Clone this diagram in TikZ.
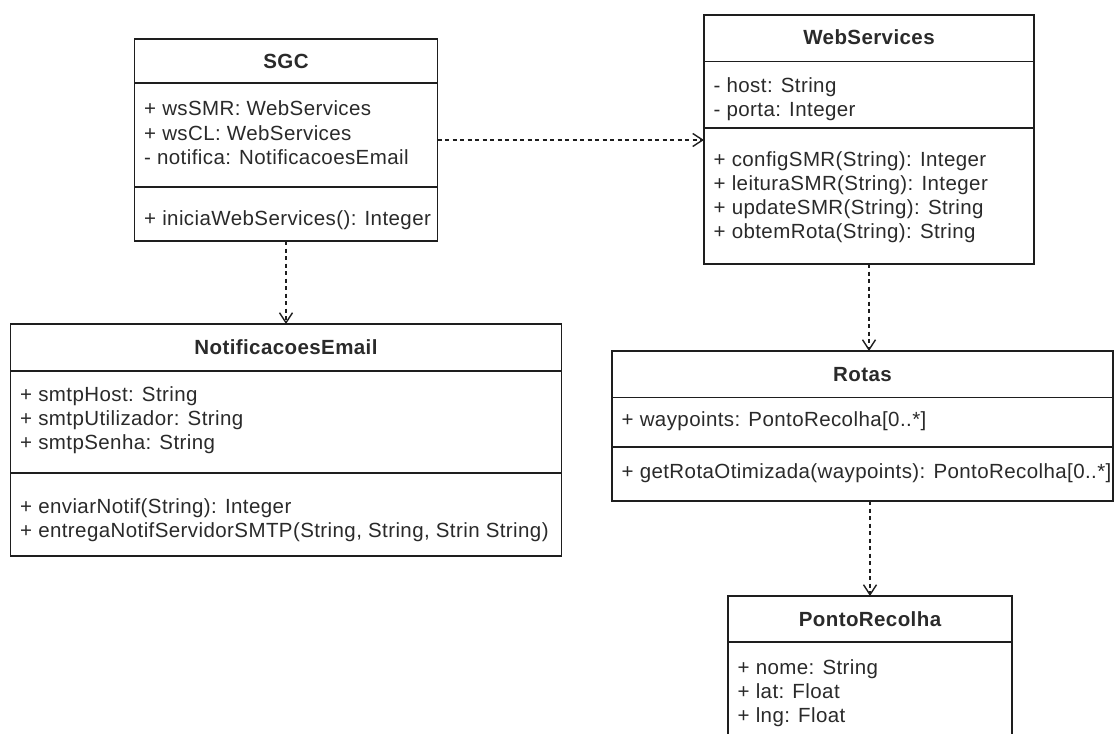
\documentclass[tikz,border=0pt]{standalone}
\usepackage{fontspec}
\setmainfont{Liberation Sans}[LetterSpace=2]
\usetikzlibrary{arrows.meta}
\definecolor{ink}{HTML}{1E1E1E}
\definecolor{txt}{HTML}{2A2A2A}
\tikzset{
  classbox/.style={draw=ink, line width=1.5pt, fill=white, inner sep=0pt, outer sep=0pt},
  sepline/.style={draw=ink, line width=1.5pt},
  title/.style={anchor=base, inner sep=0pt, text=txt, font=\fontsize{20.5}{24}\selectfont\bfseries},
  mem/.style={anchor=base west, inner sep=0pt, text=txt, font=\fontsize{20.5}{24}\selectfont},
  dep/.style={draw=ink, line width=1.5pt, dash pattern=on 4pt off 3.5pt,
    -{Straight Barb[length=10pt,width=13pt,line width=1.4pt]}}
}
\begin{document}
\begin{tikzpicture}[x=1pt,y=-1pt]
\useasboundingbox (0,0) rectangle (1115,733);
\clip (0,0) rectangle (1115,733);

% class boxes
\node[classbox, minimum width=303pt, minimum height=202pt] (sgc)   at (286,140)     {};
\node[classbox, minimum width=330pt, minimum height=249pt] (ws)    at (869,139.5)   {};
\node[classbox, minimum width=551pt, minimum height=232pt] (notif) at (286,440)     {};
\node[classbox, minimum width=501pt, minimum height=150pt] (rotas) at (862.5,426)   {};
\node[classbox, minimum width=284pt, minimum height=174pt] (ponto) at (870,683)     {};

% compartment separators
\draw[sepline] (sgc.west |- 0,83)     -- (sgc.east |- 0,83);
\draw[sepline] (sgc.west |- 0,187)    -- (sgc.east |- 0,187);
\draw[sepline] (ws.west |- 0,61.5)    -- (ws.east |- 0,61.5);
\draw[sepline] (ws.west |- 0,128)     -- (ws.east |- 0,128);
\draw[sepline] (notif.west |- 0,371)  -- (notif.east |- 0,371);
\draw[sepline] (notif.west |- 0,473)  -- (notif.east |- 0,473);
\draw[sepline] (rotas.west |- 0,397.5) -- (rotas.east |- 0,397.5);
\draw[sepline] (rotas.west |- 0,447)  -- (rotas.east |- 0,447);
\draw[sepline] (ponto.west |- 0,642)  -- (ponto.east |- 0,642);

% SGC
\node[title] (sgc-t) at (286,69) {SGC};
\node[mem] (sgc-a1) at (144,116) {+ wsSMR: WebServices};
\node[mem] (sgc-a2) at (144,140) {+ wsCL: WebServices};
\node[mem] (sgc-a3) at (144,164) {- notifica: NotificacoesEmail};
\node[mem] (sgc-m1) at (144,225) {+ iniciaWebServices(): Integer};

% WebServices
\node[title] (ws-t) at (869,45) {WebServices};
\node[mem] (ws-a1) at (713.5,92.5)  {- host: String};
\node[mem] (ws-a2) at (713.5,116.5) {- porta: Integer};
\node[mem] (ws-m1) at (713.5,166.5) {+ configSMR(String): Integer};
\node[mem] (ws-m2) at (713.5,190.5) {+ leituraSMR(String): Integer};
\node[mem] (ws-m3) at (713.5,214.5) {+ updateSMR(String): String};
\node[mem] (ws-m4) at (713.5,238.5) {+ obtemRota(String): String};

% NotificacoesEmail
\node[title] (notif-t) at (286,354) {NotificacoesEmail};
\node[mem] (notif-a1) at (20,401) {+ smtpHost: String};
\node[mem] (notif-a2) at (20,425) {+ smtpUtilizador: String};
\node[mem] (notif-a3) at (20,449) {+ smtpSenha: String};
\node[mem] (notif-m1) at (20,513) {+ enviarNotif(String): Integer};
\node[mem] (notif-m2) at (20,537) {+ entregaNotifServidorSMTP(String, String, Strin String)};

% Rotas
\node[title] (rotas-t) at (862.5,381) {Rotas};
\node[mem] (rotas-a1) at (621.5,426) {+ waypoints: PontoRecolha[0..*]};
\node[mem] (rotas-m1) at (621.5,478) {+ getRotaOtimizada(waypoints): PontoRecolha[0..*]};

% PontoRecolha
\node[title] (ponto-t) at (870,626.5) {PontoRecolha};
\node[mem] (ponto-a1) at (737.5,674) {+ nome: String};
\node[mem] (ponto-a2) at (737.5,698) {+ lat: Float};
\node[mem] (ponto-a3) at (737.5,722) {+ lng: Float};

% dependencies
\draw[dep] (sgc.east) -- (sgc.east -| ws.west);
\draw[dep] (sgc.south) -- (notif.north);
\draw[dep] (ws.south) -- (ws.south |- rotas.north);
\draw[dep] (rotas.south -| ponto.north) -- (ponto.north);
\end{tikzpicture}
\end{document}
